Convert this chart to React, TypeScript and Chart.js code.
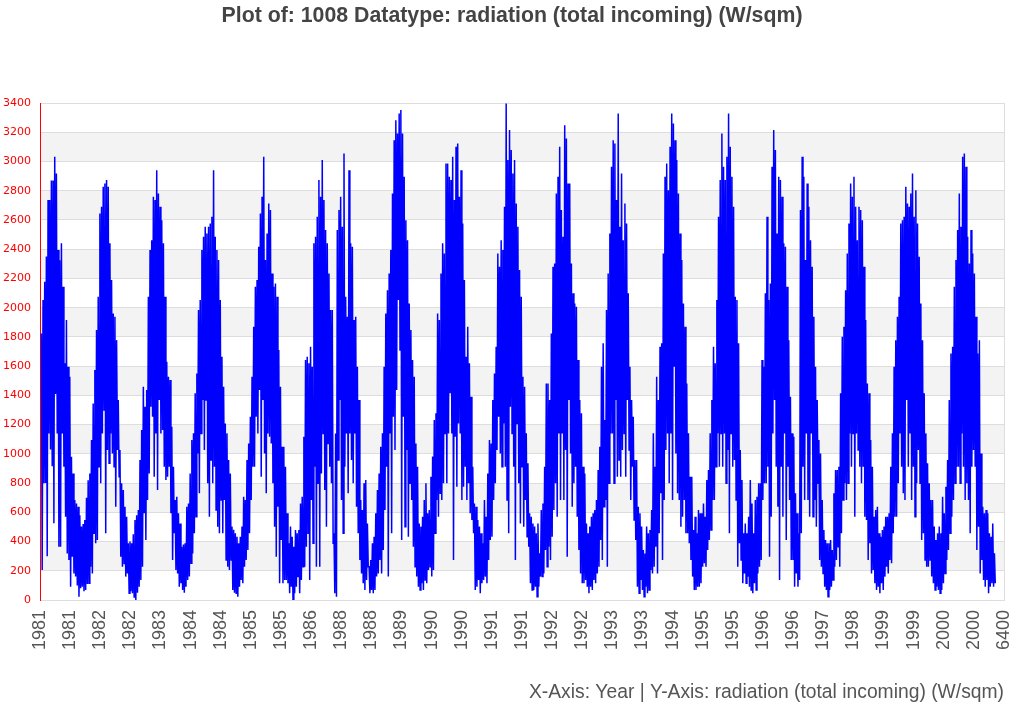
import { useEffect, useRef } from 'react'
import { Chart, registerables, type ChartOptions, type Plugin } from 'chart.js'

Chart.register(...registerables)

const TITLE = 'Plot of: 1008 Datatype: radiation (total incoming) (W/sqm)'
const AXIS_CAPTION = 'X-Axis: Year | Y-Axis: radiation (total incoming) (W/sqm)'

// tick labels of the x axis, one per 200 steps from 0 to 6400
const xTickLabels = [
  '1981', '1981', '1982', '1982', '1983', '1984', '1984', '1985', '1985', '1986', '1988',
  '1988', '1989', '1990', '1990', '1991', '1991', '1992', '1992', '1993', '1993', '1994',
  '1995', '1995', '1996', '1996', '1997', '1998', '1999', '1999', '2000', '2000', '6400',
]

// first and last day index of the record on the x axis
const FIRST_DAY = 9
const LAST_DAY = 6342

const part1 = [
  1824, 205, 2052, 798, 2177, 800, 2350, 300, 2736, 1140, 2736, 1030, 2870, 915, 2870, 525,
  3032, 1410, 2918, 1140, 2394, 365, 2325, 365, 2440, 1140, 2143, 912, 1619, 570, 1915, 319,
  1596, 274, 1528, 91, 980, 296, 866, 182, 684, 160, 660, 100, 638, 23, 580, 80, 502, 91,
  520, 60, 547, 69, 700, 110, 820, 114, 866, 228, 1094, 182, 1345, 456, 1573, 388, 1847, 410,
  2075, 912, 2645, 798, 2690, 1140, 2827, 1300, 2850, 456, 2873, 1026, 2827, 935, 2440, 1140,
  2189, 1003, 1960, 912, 1938, 638, 1778, 1026, 1368, 844, 1026, 296, 798, 228, 752, 250,
  638, 160, 570, 182, 388, 46, 400, 60, 388, 46, 450, 20, 547, 0, 580, 50, 616, 91, 958, 137,
  1163, 228, 1459, 593, 1322, 410, 1436, 684, 2075, 866, 2394, 1322, 2462, 1254, 2759, 844,
  2736, 1140, 2941, 752, 2782, 1368, 2690, 1140,
]
const part2 = [
  2599, 1163, 2440, 912, 2075, 821, 1630, 844, 1528, 912, 1505, 593, 1186, 274, 912, 456,
  684, 205, 707, 182, 593, 91, 524, 114, 365, 69, 380, 50, 388, 91, 638, 137, 661, 160,
  866, 251, 1094, 319, 1140, 456, 1414, 570, 1550, 1003, 1984, 730, 2052, 1140, 2394, 1368,
  2485, 1026, 2554, 1368, 2508, 798, 2554, 570, 2576, 958, 2622, 798, 2941, 912, 2485, 616,
  2394, 502, 2326, 456, 2052, 684, 1664, 456, 1459, 684, 1208, 274, 1140, 228, 958, 205,
  866, 274, 502, 69, 480, 50, 456, 46, 433, 23, 388, 91, 433, 137, 502, 114, 707, 228,
  684, 274, 958, 342, 1071, 456, 1254, 684, 1528, 912, 1870, 912, 2143, 1254, 2189, 1140,
  2417, 1436, 2645, 844, 2759, 1368, 3032, 1003, 2326, 730, 2508, 1140, 2713, 1117, 2668, 1071,
  2234, 798, 2143, 502, 2166, 296, 2075, 638, 1710, 114, 1459, 410, 1049, 114, 1049, 137,
]
const part3 = [
  912, 137, 593, 114, 388, 46, 502, 91, 433, 0, 365, 46, 479, 91, 456, 160, 479, 46,
  661, 137, 707, 228, 1117, 228, 1642, 365, 1664, 456, 1619, 137, 1733, 684, 1596, 388,
  2440, 912, 2485, 228, 2622, 798, 2873, 228, 2759, 866, 3010, 1140, 2736, 752, 2531, 502,
  2440, 1071, 2234, 912, 1984, 798, 1984, 388, 456, 46, 1140, 23, 2531, 958, 2668, 1368,
  2759, 684, 2554, 456, 3055, 912, 2075, 1140, 1938, 730, 2941, 1140, 2440, 958, 2417, 798,
  1915, 1140, 1938, 638, 1596, 456, 1368, 274, 684, 182, 616, 114, 798, 69, 821, 137,
  524, 228, 228, 46, 274, 69, 388, 46, 433, 69, 593, 160, 752, 182, 866, 274, 1049, 182,
  1140, 342, 1596, 616, 1961, 912, 2120, 160, 2234, 1140, 2394, 456, 2782, 1254, 3146, 1026,
  3283, 1436, 3192, 2052, 3329, 1710, 3352, 410, 3192, 1254, 2896, 502,
]
const part4 = [
  2599, 1026, 2462, 433, 2029, 798, 1847, 684, 1642, 365, 1528, 228, 1071, 160, 912, 91,
  524, 69, 502, 114, 570, 69, 684, 137, 798, 114, 593, 205, 616, 228, 844, 160, 981, 205,
  1231, 456, 1277, 684, 1961, 570, 1915, 730, 2234, 684, 2440, 798, 2371, 1140, 2987, 798,
  2987, 1140, 2896, 1414, 2873, 1140, 3032, 274, 2736, 1117, 3101, 775, 3124, 1208, 2759, 1140,
  2941, 684, 2576, 775, 2189, 912, 1664, 684, 1870, 798, 1619, 593, 1391, 547, 912, 456,
  661, 69, 638, 91, 547, 137, 502, 46, 456, 114, 388, 137, 684, 160, 570, 114, 866, 274,
  1094, 410, 1071, 433, 1368, 684, 1550, 798, 1733, 1026, 2371, 1254, 2280, 1003, 2462, 912,
  2394, 1208, 2690, 912, 3397, 684, 3010, 456, 3215, 1322, 3078, 1140, 2918, 912, 3010, 274,
  2713, 1208, 2554, 798, 2257, 524, 2075, 912, 1528, 502, 1459, 684,
]
const part5 = [
  1140, 433, 935, 365, 593, 114, 570, 69, 524, 69, 502, 91, 456, 23, 524, 91, 319, 160,
  616, 160, 661, 182, 912, 342, 1482, 228, 1482, 365, 1368, 274, 1824, 433, 2280, 616,
  2303, 798, 2782, 570, 2896, 1140, 3101, 684, 2668, 1140, 2485, 684, 3249, 1026, 3158, 296,
  2850, 1368, 2850, 1003, 2303, 638, 2098, 798, 2029, 912, 2006, 570, 1642, 342, 1368, 182,
  1277, 114, 912, 114, 866, 137, 524, 91, 456, 46, 502, 91, 570, 69, 593, 137, 616, 114,
  684, 182, 889, 228, 1049, 410, 1596, 274, 1756, 638, 1231, 684, 1984, 228, 2234, 798,
  2508, 1140, 2964, 1140, 3146, 798, 3124, 1368, 2736, 844, 3329, 958, 2554, 844, 2918, 1026,
  2462, 1140, 2713, 844, 2576, 1368, 2098, 1026, 1596, 684, 1368, 912, 1254, 547, 958, 410,
  958, 91, 638, 46, 593, 137, 502, 69, 342, 23, 319, 91,
]
const part6 = [
  502, 46, 456, 69, 479, 205, 616, 182, 1140, 228, 912, 365, 1528, 182, 1368, 456,
  1733, 730, 1756, 274, 2371, 684, 2896, 1026, 2987, 1140, 2804, 798, 3101, 1140, 3329, 684,
  3260, 1596, 3146, 1003, 3010, 730, 2782, 684, 2508, 502, 2326, 570, 2029, 684, 1870, 456,
  1482, 456, 1140, 388, 844, 274, 844, 160, 479, 69, 570, 69, 456, 91, 616, 91, 593, 114,
  593, 228, 661, 251, 570, 228, 821, 342, 889, 410, 1140, 479, 1368, 684, 1733, 684,
  1619, 912, 2052, 1140, 2622, 912, 2873, 1140, 3192, 912, 2964, 1140, 2873, 798, 3032, 1026,
  3329, 456, 3101, 1140, 2896, 912, 2690, 958, 2075, 684, 2052, 228, 1756, 388, 1026, 274,
  821, 114, 456, 182, 524, 114, 456, 160, 570, 91, 821, 69, 661, 46, 456, 114, 684, 69,
  707, 182, 798, 228, 798, 274, 1642, 684, 1596, 798, 2098, 798,
]
const part7 = [
  2622, 912, 2052, 296, 2166, 570, 2964, 1140, 3215, 1368, 3078, 912, 2508, 638, 2896, 137,
  2873, 912, 2759, 570, 2440, 1140, 2417, 410, 2143, 912, 1778, 684, 1391, 274, 1140, 274,
  1117, 91, 730, 182, 593, 91, 456, 137, 2668, 456, 3032, 912, 2896, 684, 2326, 1140,
  2850, 684, 2690, 570, 2462, 1140, 2280, 570, 1938, 684, 1596, 502, 1368, 798, 1094, 274,
  1003, 228, 684, 182, 479, 91, 410, 69, 388, 23, 388, 69, 410, 91, 342, 137, 730, 228,
  889, 274, 889, 365, 912, 228, 1414, 456, 1801, 684, 1870, 798, 2120, 684, 2371, 798,
  2576, 1140, 2850, 912, 2759, 1140, 2896, 570, 2690, 1140, 2462, 1026, 2690, 912, 2668, 798,
  2599, 912, 2280, 570, 1915, 547, 1482, 274, 1414, 388, 1094, 182, 912, 205, 570, 114,
  616, 69, 638, 91, 456, 46, 433, 114, 479, 69, 502, 160, 570, 228,
]
const part8 = [
  570, 182, 593, 274, 912, 251, 1140, 456, 1596, 570, 1778, 570, 1938, 798, 2075, 1140,
  2576, 912, 2599, 730, 2622, 684, 2827, 1368, 2713, 912, 2690, 1140, 2782, 684, 2918, 912,
  2622, 570, 2804, 798, 2576, 1026, 2348, 798, 2029, 410, 1778, 456, 1414, 274, 1140, 228,
  935, 228, 798, 274, 684, 160, 684, 114, 502, 69, 410, 91, 456, 69, 502, 46, 456, 69,
  707, 114, 593, 182, 775, 274, 958, 342, 1368, 456, 1687, 570, 1733, 684, 2143, 798,
  2326, 912, 2531, 912, 2782, 798, 2554, 1140, 3032, 912, 3055, 684, 2964, 798, 2485, 684,
  2303, 456, 2531, 912, 2371, 1026, 2234, 912, 1938, 342, 1687, 502, 1778, 182, 1003, 274,
  638, 137, 593, 91, 616, 137, 593, 46, 456, 91, 433, 114, 524, 91, 319, 114,
]

const radiation = [...part1, ...part2, ...part3, ...part4, ...part5, ...part6, ...part7, ...part8]

const FONT = '"Liberation Sans", Arial, sans-serif'

const bandsPlugin: Plugin<'line'> = {
  id: 'alternateBands',
  beforeDraw(chart) {
    const { ctx, chartArea, scales } = chart
    const y = scales.y
    ctx.save()
    ctx.fillStyle = '#f3f3f3'
    for (let v = 200; v < 3400; v += 400) {
      const top = y.getPixelForValue(v + 200)
      const bottom = y.getPixelForValue(v)
      ctx.fillRect(chartArea.left, top, chartArea.right - chartArea.left, bottom - top)
    }
    ctx.restore()
  },
  beforeDatasetsDraw(chart) {
    const { ctx, chartArea } = chart
    ctx.save()
    ctx.strokeStyle = '#dddddd'
    ctx.lineWidth = 1
    ctx.beginPath()
    ctx.moveTo(Math.round(chartArea.right) + 0.5, chartArea.top)
    ctx.lineTo(Math.round(chartArea.right) + 0.5, chartArea.bottom)
    ctx.stroke()
    ctx.restore()
  },
}

const CHART_OPTIONS: ChartOptions<'line'> = {
  responsive: true,
  maintainAspectRatio: false,
  animation: false,
  devicePixelRatio: 1,
  layout: { padding: { top: 0, right: 0, bottom: 0, left: 0 } },
  plugins: {
    legend: { display: false },
    tooltip: { enabled: false },
    title: {
      display: true,
      text: TITLE,
      color: '#444444',
      font: { family: FONT, size: 21.3, weight: 'bold' },
      padding: { top: 3, bottom: 74.5 },
    },
  },
  scales: {
    x: {
      type: 'linear',
      min: 0,
      max: 6400,
      grid: { display: false, drawTicks: false },
      border: { color: '#dddddd' },
      ticks: {
        stepSize: 200,
        autoSkip: false,
        minRotation: 90,
        maxRotation: 90,
        padding: 10,
        color: '#555555',
        font: { family: FONT, size: 18 },
        callback: (_value, index) => xTickLabels[index],
      },
      title: {
        display: true,
        text: AXIS_CAPTION,
        align: 'end',
        color: '#555555',
        font: { family: FONT, size: 19.3 },
        padding: { top: 0, bottom: 16 },
      },
      afterFit: (scale) => {
        scale.height = 120
        scale.paddingRight = 20
      },
    },
    y: {
      min: 0,
      max: 3400,
      grid: { color: '#dddddd', drawTicks: false },
      border: { color: '#ff0000' },
      ticks: {
        stepSize: 200,
        padding: 9,
        color: '#ff0000',
        font: { family: '"DejaVu Sans", sans-serif', size: 11 },
        callback: (value) => String(value),
      },
      afterFit: (scale) => {
        scale.width = 40
      },
    },
  },
}

export default function App() {
  const canvasRef = useRef<HTMLCanvasElement>(null)

  useEffect(() => {
    const canvas = canvasRef.current
    if (!canvas) return
    const step = (LAST_DAY - FIRST_DAY) / (radiation.length - 1)
    const chart = new Chart(canvas, {
      type: 'line',
      data: {
        datasets: [
          {
            label: 'radiation',
            data: radiation.map((v, i) => ({ x: FIRST_DAY + i * step, y: v })),
            borderColor: '#0000ff',
            borderWidth: 1.5,
            pointRadius: 0,
            tension: 0,
            fill: false,
          },
        ],
      },
      options: CHART_OPTIONS,
      plugins: [bandsPlugin],
    })
    return () => chart.destroy()
  }, [])

  return (
    <div style={{ width: 1024, height: 720, background: '#fff' }}>
      <style>{'body { margin: 0; }'}</style>
      <canvas ref={canvasRef} />
    </div>
  )
}
